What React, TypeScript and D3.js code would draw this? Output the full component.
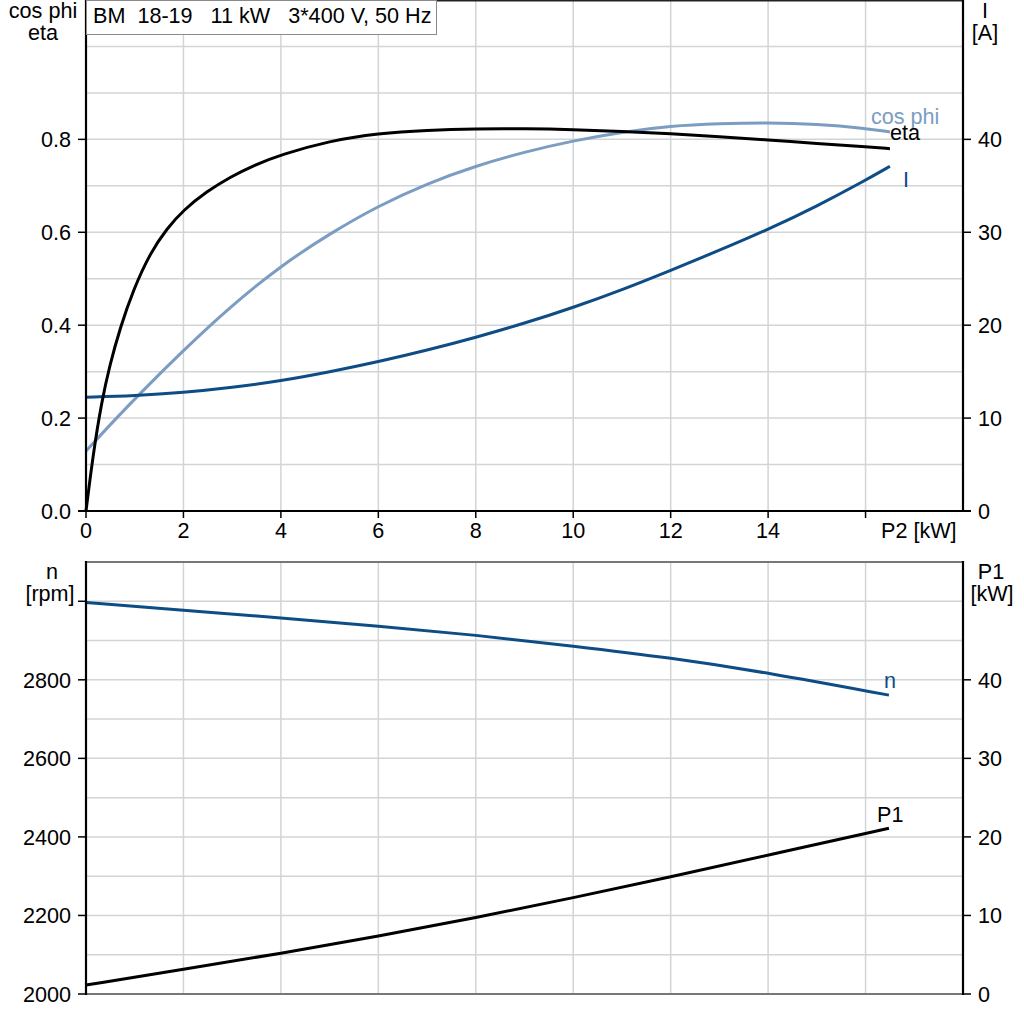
import React from "react";
import * as d3 from "d3";

// top chart: efficiency, power factor, current vs P2
const etaP2 = [0, 0.15, 0.32, 0.49, 0.7, 0.97, 1.32, 1.66, 2, 2.48, 2.96, 3.44, 4, 5, 6, 7, 8, 9, 10, 11, 12, 13, 14, 15, 16, 16.5];
const eta = [0, 0.125, 0.235, 0.315, 0.394, 0.476, 0.556, 0.608, 0.648, 0.688, 0.719, 0.744, 0.767, 0.797, 0.813, 0.82, 0.823, 0.823, 0.821, 0.817, 0.812, 0.806, 0.799, 0.791, 0.784, 0.78];

const cosPhiP2 = [0, 0.56, 1.08, 2, 2.96, 4, 5, 6, 7, 8, 9, 10, 11, 12, 13, 14, 15, 16, 16.5];
const cosPhi = [0.129, 0.193, 0.25, 0.346, 0.44, 0.528, 0.597, 0.657, 0.705, 0.743, 0.773, 0.797, 0.816, 0.829, 0.834, 0.836, 0.833, 0.824, 0.816];

const currentP2 = [0, 1, 2, 3, 4, 5, 6, 7, 8, 9, 10, 11, 12, 13, 14, 15, 16, 16.5];
const current = [12.25, 12.4, 12.75, 13.3, 14.0, 14.97, 16.06, 17.3, 18.68, 20.2, 21.9, 23.8, 25.9, 28.05, 30.3, 32.8, 35.6, 37.1];

// bottom chart: speed and input power vs P2
const lowerP2 = [0, 2, 4, 6, 8, 10, 12, 14, 16.48];
const speed = [2997, 2977, 2958, 2937, 2914, 2886, 2856, 2818, 2761];
const p1 = [1.14, 3.14, 5.17, 7.37, 9.7, 12.25, 14.9, 17.7, 21.1];

const xTicks = [0, 2, 4, 6, 8, 10, 12, 14];
const xGrid = [2, 4, 6, 8, 10, 12, 14, 16];
const etaTicks = [0, 0.2, 0.4, 0.6, 0.8];
const etaGrid = [0.1, 0.2, 0.3, 0.4, 0.5, 0.6, 0.7, 0.8, 0.9, 1.0];
const currentTicks = [0, 10, 20, 30, 40];
const speedTicks = [2000, 2200, 2400, 2600, 2800];
const speedGrid = [2100, 2200, 2300, 2400, 2500, 2600, 2700, 2800, 2900, 3000];
const p1Ticks = [0, 10, 20, 30, 40];

const title = "BM  18-19   11 kW   3*400 V, 50 Hz";

const LIGHT = "#7a9dc1";
const DARK = "#0d4c85";
const GRID = "#d2d4d6";
const FONT = "'Liberation Sans', Arial, sans-serif";

const left = 86;
const right = 963;

const x = d3.scaleLinear().domain([0, 18]).range([left, right]);
const yEta = d3.scaleLinear().domain([0, 1.1]).range([511, 0]);
const yI = d3.scaleLinear().domain([0, 55]).range([511, 0]);
const yN = d3.scaleLinear().domain([2000, 3100]).range([994, 562]);
const yP1 = d3.scaleLinear().domain([0, 55]).range([994, 562]);

// B-spline through the read-off points smooths out reading noise
const path = (xs: number[], ys: number[], sy: d3.ScaleLinear<number, number>) =>
  d3
    .line<number>()
    .x((_, i) => x(xs[i]))
    .y((d) => sy(d))
    .curve(d3.curveBasis)(ys) as string;

export default function App() {
  const txt = { fontFamily: FONT, fontSize: 21.6, fill: "#000" };
  return (
    <svg
      width={1024}
      height={1024}
      style={{ position: "absolute", left: 0, top: 0, background: "#fff" }}
    >
      {/* ---- top chart ---- */}
      <g>
        {etaGrid.map((v) => (
          <line key={"hg" + v} x1={left} x2={right} y1={yEta(v)} y2={yEta(v)} stroke={GRID} strokeWidth={1.5} />
        ))}
        {xGrid.map((v) => (
          <line key={"vg" + v} x1={x(v)} x2={x(v)} y1={0} y2={511} stroke={GRID} strokeWidth={1.5} />
        ))}
        <line x1={left} x2={right} y1={0.75} y2={0.75} stroke="#222" strokeWidth={1.5} />

        <path d={path(cosPhiP2, cosPhi, yEta)} fill="none" stroke={LIGHT} strokeWidth={3} />
        <path d={path(currentP2, current, yI)} fill="none" stroke={DARK} strokeWidth={3} />
        <path d={path(etaP2, eta, yEta)} fill="none" stroke="#000" strokeWidth={3} />

        {/* axes */}
        <line x1={left} x2={left} y1={0} y2={512} stroke="#000" strokeWidth={2.2} />
        <line x1={right} x2={right} y1={0} y2={512} stroke="#000" strokeWidth={2.2} />
        <line x1={left - 8} x2={right + 8} y1={511} y2={511} stroke="#000" strokeWidth={2.2} />
        {[...xTicks, 16].map((v) => (
          <line key={"xt" + v} x1={x(v)} x2={x(v)} y1={511} y2={518} stroke="#000" strokeWidth={1.5} />
        ))}
        {xTicks.map((v) => (
          <text key={"xl" + v} x={x(v)} y={538} textAnchor="middle" {...txt}>
            {v}
          </text>
        ))}
        <text x={881} y={538} {...txt}>
          P2 [kW]
        </text>
        {etaTicks.map((v) => (
          <g key={"et" + v}>
            <line x1={left - 8} x2={left} y1={yEta(v)} y2={yEta(v)} stroke="#000" strokeWidth={1.5} />
            <text x={71} y={yEta(v)} dy="0.36em" textAnchor="end" {...txt}>
              {v.toFixed(1)}
            </text>
          </g>
        ))}
        {currentTicks.map((v) => (
          <g key={"it" + v}>
            <line x1={right} x2={right + 8} y1={yI(v)} y2={yI(v)} stroke="#000" strokeWidth={1.5} />
            <text x={978} y={yI(v)} dy="0.36em" {...txt}>
              {v}
            </text>
          </g>
        ))}
        <text x={43} y={18} textAnchor="middle" {...txt}>cos phi</text>
        <text x={43} y={40} textAnchor="middle" {...txt}>eta</text>
        <text x={985} y={18} textAnchor="middle" {...txt}>I</text>
        <text x={985} y={40} textAnchor="middle" {...txt}>[A]</text>

        {/* curve labels */}
        <text x={871} y={124} {...txt} fill={LIGHT}>cos phi</text>
        <text x={890} y={140} {...txt}>eta</text>
        <text x={903} y={187} {...txt} fill={DARK}>I</text>

        {/* title box */}
        <rect x={86.5} y={0.5} width={350} height={34} fill="#fff" stroke="#8a8a8a" strokeWidth={1} />
        <text x={93} y={23} {...txt} style={{ whiteSpace: "pre" }}>
          {title}
        </text>
      </g>

      {/* ---- bottom chart ---- */}
      <g>
        {speedGrid.map((v) => (
          <line key={"ng" + v} x1={left} x2={right} y1={yN(v)} y2={yN(v)} stroke={GRID} strokeWidth={1.5} />
        ))}
        {xGrid.map((v) => (
          <line key={"bvg" + v} x1={x(v)} x2={x(v)} y1={562} y2={994} stroke={GRID} strokeWidth={1.5} />
        ))}
        <line x1={left} x2={right} y1={562} y2={562} stroke="#777" strokeWidth={2} />
        <line x1={left} x2={right} y1={994} y2={994} stroke="#777" strokeWidth={2} />

        <path d={path(lowerP2, speed, yN)} fill="none" stroke={DARK} strokeWidth={3} />
        <path d={path(lowerP2, p1, yP1)} fill="none" stroke="#000" strokeWidth={3} />

        <line x1={left} x2={left} y1={561} y2={995} stroke="#000" strokeWidth={2.2} />
        <line x1={right} x2={right} y1={561} y2={995} stroke="#000" strokeWidth={2.2} />
        {[...speedTicks, 3000].map((v) => (
          <line key={"nt" + v} x1={left - 8} x2={left} y1={yN(v)} y2={yN(v)} stroke="#000" strokeWidth={1.5} />
        ))}
        {speedTicks.map((v) => (
          <text key={"nl" + v} x={71} y={yN(v)} dy="0.36em" textAnchor="end" {...txt}>
            {v}
          </text>
        ))}
        {p1Ticks.map((v) => (
          <g key={"pt" + v}>
            <line x1={right} x2={right + 8} y1={yP1(v)} y2={yP1(v)} stroke="#000" strokeWidth={1.5} />
            <text x={978} y={yP1(v)} dy="0.36em" {...txt}>
              {v}
            </text>
          </g>
        ))}
        <text x={52} y={579} textAnchor="middle" {...txt}>n</text>
        <text x={50} y={601} textAnchor="middle" {...txt}>[rpm]</text>
        <text x={991} y={579} textAnchor="middle" {...txt}>P1</text>
        <text x={992} y={601} textAnchor="middle" {...txt}>[kW]</text>

        <text x={884} y={688} {...txt} fill={DARK}>n</text>
        <text x={877} y={822} {...txt}>P1</text>
      </g>
    </svg>
  );
}
